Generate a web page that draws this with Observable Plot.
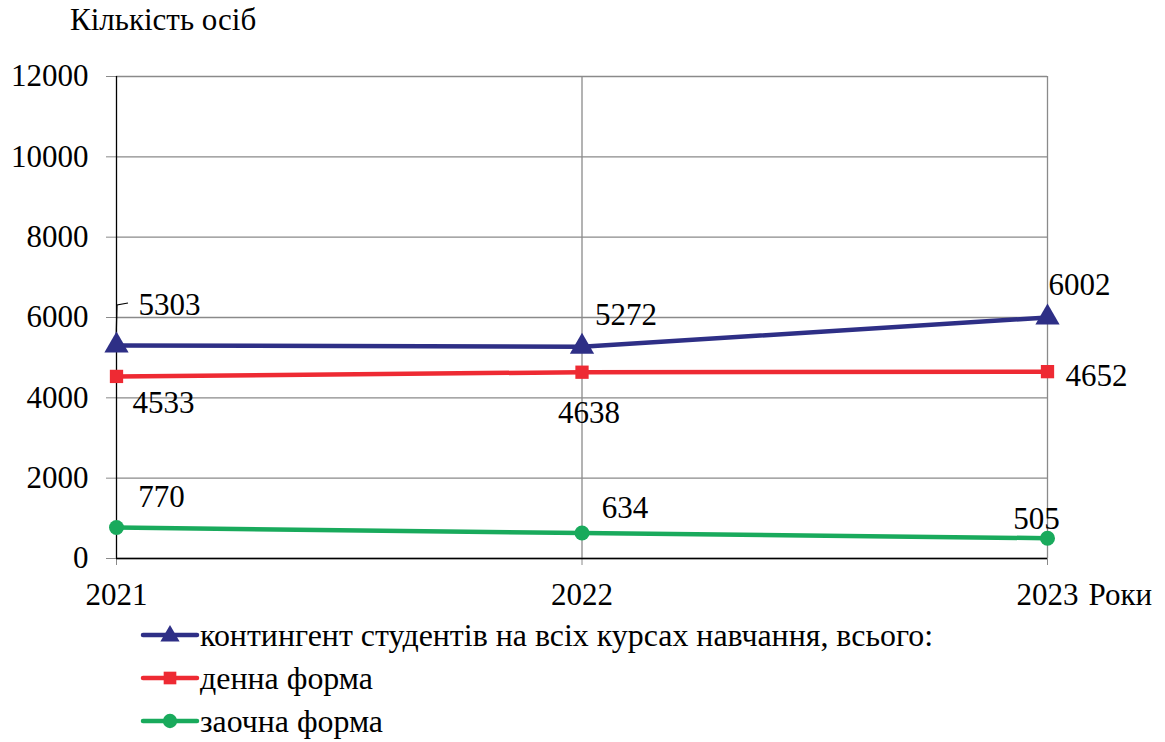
<!DOCTYPE html>
<html>
<head>
<meta charset="utf-8">
<script src="https://cdn.jsdelivr.net/npm/d3@7"></script>
<script src="https://cdn.jsdelivr.net/npm/@observablehq/plot@0.6"></script>
<style>
  .ser { font-family: 'Times New Roman', Tinos, 'Liberation Serif', serif !important; }
</style>
</head>
<body style="margin:0;padding:0;background:white;" class="ser">
<div id="wrap" class="ser" style="position:relative;width:1165px;height:742px;">
  <div id="chart" style="position:absolute;left:0;top:0;"></div>
  <div id="title" class="ser" style="position:absolute;left:70px;top:2px;font-size:31px;color:#000;">Кількість осіб</div>
  <div id="legend" style="position:absolute;left:0;top:600px;"></div>
</div>
<script>
const years = [2021, 2022, 2023];
const total = [5303, 5272, 6002];
const dayForm = [4533, 4638, 4652];
const partForm = [770, 634, 505];
const seriesNames = [
  "контингент студентів на всіх курсах навчання, всього:",
  "денна форма",
  "заочна форма"
];
const yTicks = [0, 2000, 4000, 6000, 8000, 10000, 12000];
const xTitle = "Роки";

const colors = ["#2E2F86", "#EE2A33", "#19AA5C"];
const symbols = ["triangle", "square", "circle"];
const valuesBySeries = [total, dayForm, partForm];
const labelDx = [[53, 44, 32], [47, 7, 49], [45, 43, -11]];
const labelDy = [[-40, -32, -32], [27, 41, 4], [-30, -25, -19]];

const rows = [];
valuesBySeries.forEach((vals, s) => {
  vals.forEach((v, i) => rows.push({series: s, year: years[i], value: v, i}));
});

const gray = "#8a8a8a";
const marks = [
  Plot.gridY(yTicks, {stroke: gray, strokeOpacity: 1, strokeWidth: 1.3}),
  Plot.ruleX([2022, 2023], {stroke: gray, strokeWidth: 1.3}),
  Plot.axisY({ticks: yTicks, tickSize: 10, tickPadding: 18, stroke: gray, fill: "black", label: null, tickFormat: d => String(d)}),
  Plot.axisX({ticks: years, tickSize: 7, tickPadding: 17, stroke: gray, fill: "black", label: null, tickFormat: d => String(d)}),
  Plot.ruleX([2021], {stroke: "black", strokeWidth: 1.3}),
  Plot.ruleY([0], {stroke: "black", strokeWidth: 1.3}),
  Plot.text([xTitle], {x: () => 2023, y: () => 0, dx: 41, dy: 24, textAnchor: "start", lineAnchor: "top", fill: "black"}),
  Plot.dot([rows[0]], {
    x: "year", y: "value",
    render(index, scales, values, dims, context) {
      const x = scales.x(2021), y = scales.y(5303);
      const p = d3.create("svg:path")
        .attr("d", `M${x},${y - 2}L${x + 1},${y - 40}L${x + 12},${y - 42}`)
        .attr("fill", "none").attr("stroke", "black").attr("stroke-width", 1.2);
      return p.node();
    }
  })
];
valuesBySeries.forEach((vals, s) => {
  const data = rows.filter(r => r.series === s);
  marks.push(Plot.line(data, {x: "year", y: "value", stroke: colors[s], strokeWidth: 4.5}));
  marks.push(Plot.dot(data, {x: "year", y: "value", symbol: () => symbols[s], fill: colors[s], stroke: "none", r: s === 0 ? 9 : 7.5}));
  data.forEach((r) => {
    marks.push(Plot.text([r], {x: "year", y: "value", text: d => String(d.value), dx: labelDx[s][r.i], dy: labelDy[s][r.i], fill: "black"}));
  });
});

const chart = Plot.plot({
  width: 1165,
  height: 620,
  marginTop: 76,
  marginLeft: 116,
  marginRight: 118,
  marginBottom: 62,
  className: "ser",
  style: {fontSize: "31px", color: "black", background: "white", overflow: "visible"},
  x: {domain: [2021, 2023]},
  y: {domain: [0, 12000]},
  symbol: {type: "identity"},
  marks
});
chart.classList.add("ser");
document.getElementById("chart").appendChild(chart);

// legend as svg, text widths fitted to the reference
const legendWidths = [733, 173, 183];
const lsvg = d3.create("svg").attr("width", 1165).attr("height", 142).attr("class", "ser");
const rowY = [35, 78, 121];
seriesNames.forEach((name, s) => {
  const g = lsvg.append("g").attr("transform", `translate(0,${rowY[s]})`);
  g.append("line").attr("x1", 143).attr("x2", 197).attr("y1", 0).attr("y2", 0)
    .attr("stroke", colors[s]).attr("stroke-width", 4.5).attr("stroke-linecap", "round");
  const sym = d3.symbol().type(s === 0 ? d3.symbolTriangle : s === 1 ? d3.symbolSquare : d3.symbolCircle).size(s === 0 ? 160 : 160)();
  g.append("path").attr("transform", `translate(170,${s === 0 ? 1 : 0})`).attr("d", sym).attr("fill", colors[s]);
  g.append("text").attr("x", 200).attr("y", 0).attr("dy", "0.36em")
    .attr("font-size", 31).attr("fill", "black")
    .attr("textLength", legendWidths[s]).attr("lengthAdjust", "spacingAndGlyphs")
    .text(name);
});
document.getElementById("legend").appendChild(lsvg.node());
</script>
</body>
</html>
